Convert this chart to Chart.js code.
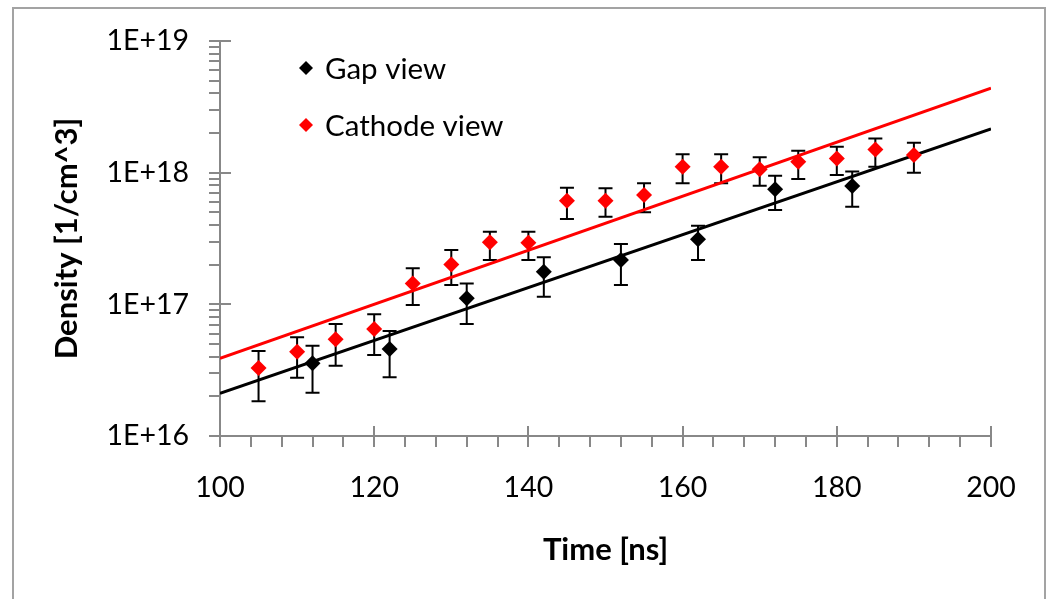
<!DOCTYPE html>
<html>
<head>
<meta charset="utf-8">
<script src="https://cdn.jsdelivr.net/npm/chart.js@4/dist/chart.umd.min.js"></script>
<style>
  html, body { margin: 0; padding: 0; background: #ffffff; }
  #wrap { position: relative; width: 1048px; height: 599px; }
</style>
</head>
<body>
<div id="wrap"><canvas id="c" width="1048" height="599"></canvas></div>
<script>
// ---- data ----
const cathodeTime = [105, 110, 115, 120, 125, 130, 135, 140, 145, 150, 155, 160, 165, 170, 175, 180, 185, 190];
const cathodeDensity = [3.28e16, 4.37e16, 5.42e16, 6.50e16, 1.44e17, 2.01e17, 2.96e17, 2.94e17, 6.12e17, 6.12e17, 6.77e17, 1.11e18, 1.11e18, 1.06e18, 1.21e18, 1.28e18, 1.50e18, 1.36e18];
const cathodeHigh = [4.42e16, 5.62e16, 7.09e16, 8.40e16, 1.88e17, 2.59e17, 3.56e17, 3.56e17, 7.69e17, 7.61e17, 8.30e17, 1.38e18, 1.38e18, 1.31e18, 1.47e18, 1.57e18, 1.82e18, 1.69e18];
const cathodeLow = [1.84e16, 2.77e16, 3.42e16, 4.12e16, 9.89e16, 1.40e17, 2.17e17, 2.17e17, 4.45e17, 4.63e17, 5.00e17, 8.30e17, 8.30e17, 7.96e17, 8.95e17, 9.60e17, 1.11e18, 1.00e18];

const gapTime = [112, 122, 132, 142, 152, 162, 172, 182];
const gapDensity = [3.57e16, 4.58e16, 1.11e17, 1.77e17, 2.17e17, 3.12e17, 7.48e17, 7.92e17];
const gapHigh = [4.85e16, 6.27e16, 1.44e17, 2.28e17, 2.87e17, 3.96e17, 9.48e17, 1.02e18];
const gapLow = [2.13e16, 2.79e16, 7.09e16, 1.14e17, 1.40e17, 2.17e17, 5.20e17, 5.52e17];

// exponential trendline end points
const fitTime = [100, 200];
const gapFit = [2.11e16, 2.15e18];
const cathodeFit = [3.89e16, 4.38e18];

// axis ticks
const xTickValues = [100, 120, 140, 160, 180, 200];
const xTickLabels = ['100', '120', '140', '160', '180', '200'];
const yTickValues = [1e16, 1e17, 1e18, 1e19];
const yTickLabels = ['1E+16', '1E+17', '1E+18', '1E+19'];

const seriesNames = ['Gap view', 'Cathode view'];
const xTitle = 'Time [ns]';
const yTitle = 'Density [1/cm^3]';

// ---- build ----
const toPts = (xs, ys) => xs.map((x, i) => ({x: x, y: ys[i]}));
const AXIS = '#888888';
const FONT = 'Lato, "Open Sans", sans-serif';

const errorSets = [
  {xs: gapTime, lo: gapLow, hi: gapHigh},
  {xs: cathodeTime, lo: cathodeLow, hi: cathodeHigh}
];

const decor = {
  id: 'decor',
  beforeDraw(chart) {
    const ctx = chart.ctx;
    ctx.save();
    ctx.strokeStyle = '#a3a3a3';
    ctx.lineWidth = 2;
    ctx.strokeRect(13, 8, 1032, 700);
    ctx.restore();
  },
  beforeDatasetsDraw(chart) {
    // error bars
    const ctx = chart.ctx, xs = chart.scales.x, ys = chart.scales.y;
    ctx.save();
    ctx.strokeStyle = '#000000';
    ctx.lineWidth = 2;
    errorSets.forEach(s => {
      s.xs.forEach((t, i) => {
        const px = xs.getPixelForValue(t);
        const pl = ys.getPixelForValue(s.lo[i]);
        const ph = ys.getPixelForValue(s.hi[i]);
        ctx.beginPath();
        ctx.moveTo(px, pl); ctx.lineTo(px, ph);
        ctx.moveTo(px - 7, pl); ctx.lineTo(px + 7, pl);
        ctx.moveTo(px - 7, ph); ctx.lineTo(px + 7, ph);
        ctx.stroke();
      });
    });
    ctx.restore();
  },
  afterDraw(chart) {
    const ctx = chart.ctx, xs = chart.scales.x, ys = chart.scales.y;
    const ax = xs.left, ay = ys.bottom;
    ctx.save();
    ctx.strokeStyle = AXIS;
    ctx.lineWidth = 2;
    ctx.beginPath();
    // y ticks: major cross, minor outside
    for (let e = 16; e <= 19; e++) {
      for (let m = 1; m <= 9; m++) {
        const v = m * Math.pow(10, e);
        if (v > 1e19 * 1.0001) break;
        const py = Math.round(ys.getPixelForValue(v));
        if (m === 1) { ctx.moveTo(ax - 11, py); ctx.lineTo(ax + 11, py); }
        else { ctx.moveTo(ax - 11, py); ctx.lineTo(ax, py); }
      }
    }
    // x ticks
    for (let t = 100; t <= 200; t += 4) {
      const px = Math.round(xs.getPixelForValue(t));
      if ((t - 100) % 20 === 0) { ctx.moveTo(px, ay - 10); ctx.lineTo(px, ay + 11); }
      else { ctx.moveTo(px, ay); ctx.lineTo(px, ay + 11); }
    }
    ctx.stroke();

    // legend
    const items = [
      {label: chart.data.datasets[0].label, color: chart.data.datasets[0].backgroundColor, y: 68},
      {label: chart.data.datasets[1].label, color: chart.data.datasets[1].backgroundColor, y: 125}
    ];
    ctx.font = '29.5px ' + FONT;
    ctx.textBaseline = 'middle';
    ctx.textAlign = 'left';
    items.forEach(it => {
      ctx.fillStyle = it.color;
      ctx.beginPath();
      ctx.moveTo(306, it.y - 7); ctx.lineTo(313, it.y); ctx.lineTo(306, it.y + 7); ctx.lineTo(299, it.y);
      ctx.closePath(); ctx.fill();
      ctx.fillStyle = '#000000';
      ctx.fillText(it.label, 325, it.y + 1);
    });
    ctx.restore();
  }
};

new Chart(document.getElementById('c'), {
  data: {
    datasets: [
      {type: 'scatter', label: seriesNames[0], data: toPts(gapTime, gapDensity),
       backgroundColor: '#000000', borderColor: '#000000', pointStyle: 'rectRot', pointRadius: 8, pointBorderWidth: 0, order: 1},
      {type: 'scatter', label: seriesNames[1], data: toPts(cathodeTime, cathodeDensity),
       backgroundColor: '#ff0000', borderColor: '#ff0000', pointStyle: 'rectRot', pointRadius: 8, pointBorderWidth: 0, order: 2},
      {type: 'line', label: 'Gap fit', data: toPts(fitTime, gapFit),
       borderColor: '#000000', borderWidth: 3, pointRadius: 0, fill: false, order: 3},
      {type: 'line', label: 'Cathode fit', data: toPts(fitTime, cathodeFit),
       borderColor: '#ff0000', borderWidth: 3, pointRadius: 0, fill: false, order: 4}
    ]
  },
  options: {
    responsive: false,
    animation: false,
    events: [],
    layout: {padding: {left: 0, top: 41, right: 57, bottom: 0}},
    plugins: {legend: {display: false}, tooltip: {enabled: false}},
    scales: {
      x: {
        type: 'linear', min: 100, max: 200,
        afterFit(s) { s.height = 163; s.paddingLeft = 0; s.paddingRight = 0; },
        afterBuildTicks(s) { s.ticks = xTickValues.map(v => ({value: v})); },
        ticks: {
          autoSkip: false, maxRotation: 0, padding: 35, color: '#000000',
          font: {family: FONT, size: 28.5},
          callback: (v) => xTickLabels[xTickValues.indexOf(v)]
        },
        grid: {display: false, drawTicks: false},
        border: {display: true, color: AXIS, width: 2},
        title: {display: true, text: xTitle, color: '#000000',
                font: {family: FONT, size: 31, weight: 'bold'}, padding: {top: 0, bottom: 30}}
      },
      y: {
        type: 'logarithmic', min: 1e16, max: 1e19,
        afterFit(s) { s.width = 220; s.paddingTop = 0; s.paddingBottom = 0; },
        afterBuildTicks(s) { s.ticks = yTickValues.map(v => ({value: v})); },
        ticks: {
          autoSkip: false, padding: 31, color: '#000000',
          font: {family: FONT, size: 28.5},
          callback: (v) => yTickLabels[yTickValues.indexOf(v)]
        },
        grid: {display: false, drawTicks: false},
        border: {display: true, color: AXIS, width: 2},
        title: {display: true, text: yTitle, color: '#000000',
                font: {family: FONT, size: 31, weight: 'bold'}, padding: {top: 48, bottom: 0}}
      }
    }
  },
  plugins: [decor]
});
</script>
</body>
</html>
